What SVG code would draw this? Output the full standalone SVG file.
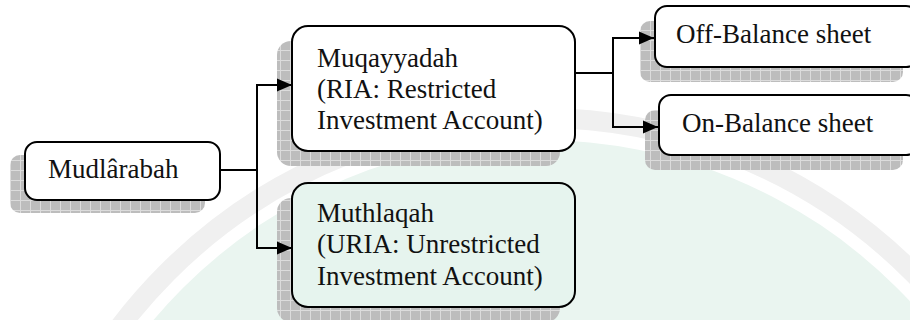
<svg xmlns="http://www.w3.org/2000/svg" width="910" height="320" viewBox="0 0 910 320">
  <defs>
    <pattern id="hatch" width="10" height="10" patternUnits="userSpaceOnUse">
      <rect width="10" height="10" fill="#bdbdbd"/>
      <path d="M0 0.5H10M0.5 0V10" stroke="#dcdcdc" stroke-width="1"/>
    </pattern>
    <marker id="arrow" markerUnits="userSpaceOnUse" markerWidth="16" markerHeight="14" refX="15" refY="7" orient="auto">
      <path d="M0 0.5L15 7L0 13.5z" fill="#000"/>
    </marker>
  </defs>
  <style>
    .shadow { fill: url(#hatch); }
    .box { fill: #ffffff; stroke: #000; stroke-width: 2; }
    .green { fill: #e6f4ee; }
    text { font-family: 'Liberation Serif', 'DejaVu Serif', serif; font-size: 27px; fill: #111; }
    .conn { fill: none; stroke: #000; stroke-width: 2; }
  </style>
  <rect width="910" height="320" fill="#ffffff"/>
  <g id="watermark">
    <circle cx="540" cy="645" r="505" fill="#eaf5f0"/>
    <circle cx="540" cy="645" r="527" fill="none" stroke="#f0f0f0" stroke-width="20"/>
  </g>

  <g id="node-mudlarabah">
    <rect class="shadow" x="10" y="155" width="195" height="58" rx="10"/>
    <rect class="box" x="25" y="142" width="195" height="58" rx="12"/>
    <text x="48" y="178" font-family="Liberation Serif, DejaVu Serif, serif">Mudlârabah</text>
  </g>

  <g id="node-muqayyadah">
    <rect class="shadow" x="277" y="41" width="283" height="125" rx="14"/>
    <rect class="box" x="292" y="26" width="283" height="125" rx="16"/>
    <text x="317" y="67" font-family="Liberation Serif, DejaVu Serif, serif">Muqayyadah</text>
    <text x="317" y="98" font-family="Liberation Serif, DejaVu Serif, serif">(RIA: Restricted</text>
    <text x="317" y="129" font-family="Liberation Serif, DejaVu Serif, serif">Investment Account)</text>
  </g>

  <g id="node-muthlaqah">
    <rect class="shadow" x="277" y="198" width="283" height="124" rx="14"/>
    <rect class="box green" x="292" y="183" width="283" height="124" rx="16"/>
    <text x="317" y="222" font-family="Liberation Serif, DejaVu Serif, serif">Muthlaqah</text>
    <text x="317" y="253" font-family="Liberation Serif, DejaVu Serif, serif">(URIA: Unrestricted</text>
    <text x="317" y="285" font-family="Liberation Serif, DejaVu Serif, serif">Investment Account)</text>
  </g>

  <g id="node-off-balance">
    <rect class="shadow" x="640" y="21" width="263" height="61" rx="10"/>
    <rect class="box" x="655" y="6" width="263" height="61" rx="12"/>
    <text x="676" y="43" font-family="Liberation Serif, DejaVu Serif, serif">Off-Balance sheet</text>
  </g>

  <g id="node-on-balance">
    <rect class="shadow" x="645" y="110" width="258" height="60" rx="10"/>
    <rect class="box" x="659" y="95" width="259" height="60" rx="12"/>
    <text x="682" y="132" font-family="Liberation Serif, DejaVu Serif, serif">On-Balance sheet</text>
  </g>

  <g id="connectors">
    <path class="conn" d="M220 170H257M257 84V249"/>
    <path class="conn" d="M257 85H292" marker-end="url(#arrow)"/>
    <path class="conn" d="M257 248H292" marker-end="url(#arrow)"/>
    <path class="conn" d="M575 73H613M613 37V128"/>
    <path class="conn" d="M613 38H654" marker-end="url(#arrow)"/>
    <path class="conn" d="M613 127H658" marker-end="url(#arrow)"/>
  </g>
</svg>
